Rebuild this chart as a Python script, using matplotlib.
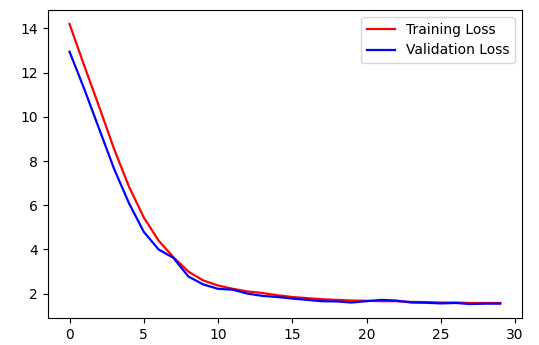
import matplotlib
matplotlib.use("Agg")
import matplotlib.pyplot as plt

epochs = list(range(30))
train_loss = [14.2, 12.3, 10.45, 8.55, 6.85, 5.45, 4.4, 3.65, 3.0, 2.6,
              2.37, 2.22, 2.1, 2.03, 1.93, 1.85, 1.8, 1.75, 1.72, 1.69,
              1.68, 1.66, 1.66, 1.63, 1.62, 1.6, 1.6, 1.58, 1.58, 1.58]
val_loss = [12.95, 11.25, 9.45, 7.65, 6.1, 4.8, 4.0, 3.62, 2.78, 2.42,
            2.22, 2.18, 2.0, 1.9, 1.85, 1.78, 1.72, 1.66, 1.65, 1.6,
            1.66, 1.72, 1.69, 1.6, 1.59, 1.56, 1.58, 1.53, 1.55, 1.55]

fig = plt.figure(figsize=(5.39, 3.45), dpi=100)
ax = fig.add_axes([0.089, 0.078, 0.879, 0.893])

ax.plot(epochs, train_loss, 'r', label='Training Loss', linewidth=1.6)
ax.plot(epochs, val_loss, 'b', label='Validation Loss', linewidth=1.6)
ax.legend(loc='upper right')

fig.savefig("out.png", dpi=100)
